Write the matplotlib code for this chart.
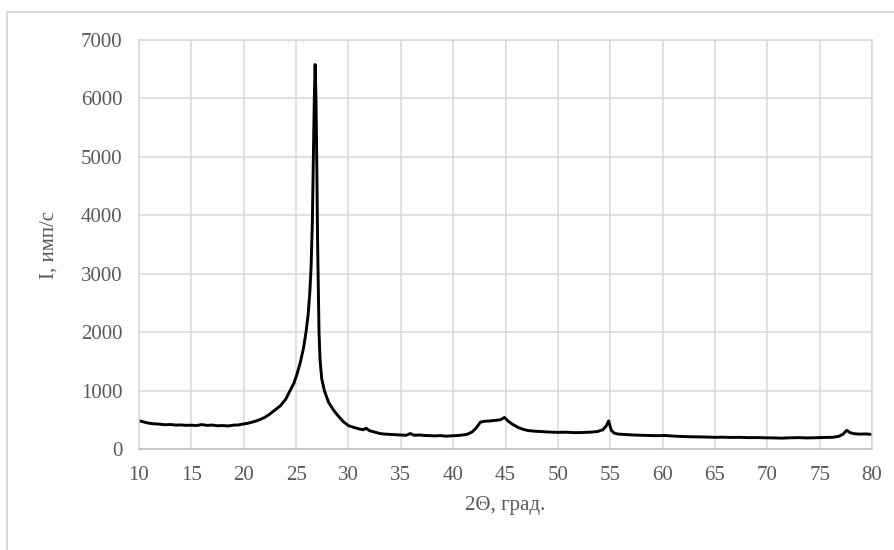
import numpy as np
import matplotlib
matplotlib.use('Agg')
import matplotlib.pyplot as plt
from matplotlib.patches import Rectangle

## XRD pattern

two_theta = [10.0, 10.5, 11.0, 11.5, 12.0, 12.5, 13.0, 13.5, 14.0, 14.5, 15.0, 15.5,
             16.0, 16.5, 17.0, 17.5, 18.0, 18.5, 19.0, 19.5, 20.0, 20.5, 21.0, 21.5,
             22.0, 22.5, 23.0, 23.5, 24.0, 24.4, 24.8, 25.1, 25.4, 25.7, 25.95, 26.15,
             26.3, 26.43, 26.55, 26.65, 26.74, 26.82, 26.9, 26.97, 27.05, 27.12, 27.19,
             27.29, 27.45, 27.7, 28.1, 28.56, 29.0, 29.5, 30.0, 30.5, 31.0, 31.4, 31.7,
             32.0, 32.5, 33.0, 33.5, 34.0, 34.5, 35.0, 35.5, 35.9, 36.3, 36.8, 37.3,
             37.8, 38.3, 38.8, 39.3, 39.8, 40.3, 40.8, 41.3, 41.8, 42.2, 42.6, 43.0,
             43.5, 44.0, 44.5, 44.9, 45.3, 45.7, 46.2, 46.7, 47.2, 47.8, 48.5, 49.2,
             50.0, 50.8, 51.6, 52.4, 53.2, 53.8, 54.3, 54.6, 54.85, 55.1, 55.4, 55.8,
             56.5, 57.2, 58.0, 58.8, 59.5, 60.2, 61.0, 61.8, 62.6, 63.4, 64.2, 65.0,
             65.8, 66.6, 67.4, 68.2, 69.0, 69.8, 70.6, 71.4, 72.2, 73.0, 73.8, 74.6,
             75.4, 76.2, 76.8, 77.2, 77.6, 77.9, 78.3, 78.8, 79.4, 80.0]
intensity = [485, 460, 440, 430, 425, 415, 420, 410, 412, 405, 408, 402,
             418, 405, 410, 398, 402, 395, 408, 412, 430, 445, 470, 500,
             540, 600, 670, 740, 850, 990, 1130, 1290, 1480, 1720, 2000, 2300,
             2650, 3100, 3850, 5000, 6000, 6580, 6000, 5000, 3600, 2800, 2000,
             1520, 1200, 1000, 800, 670, 570, 470, 400, 370, 345, 330, 355,
             315, 290, 265, 255, 250, 245, 240, 235, 265, 235, 240, 232,
             228, 225, 230, 220, 225, 230, 238, 250, 290, 360, 460, 475,
             480, 490, 500, 540, 470, 420, 370, 335, 315, 305, 298, 290,
             285, 288, 280, 283, 290, 300, 330, 390, 480, 320, 270, 255,
             248, 240, 235, 232, 228, 232, 222, 215, 210, 208, 205, 200,
             202, 198, 200, 195, 196, 192, 190, 186, 192, 195, 190, 193,
             198, 200, 215, 250, 320, 280, 262, 255, 258, 250]

x_ticks = list(range(10, 81, 5))
y_ticks = list(range(0, 7001, 1000))

plt.rcParams['font.family'] = ['Liberation Serif', 'DejaVu Serif']

fig = plt.figure(figsize=(8.94, 5.5), dpi=100)
ax = fig.add_axes([0.1555, 0.1836, 0.8199, 0.7437])

ax.plot(two_theta, intensity, color='black', lw=2.1, solid_joinstyle='round')

ax.set_xlim(10, 80)
ax.set_ylim(0, 7000)
ax.set_xticks(x_ticks)
ax.set_yticks(y_ticks)
ax.grid(True, color='#d9d9d9', lw=1.1)
ax.set_axisbelow(True)
ax.tick_params(length=0, labelsize=15, labelcolor='#595959', pad=12)
for s in ax.spines.values():
    s.set_color('#d9d9d9')
    s.set_linewidth(1.1)
ax.spines['bottom'].set_color('#bfbfbf')

ax.set_xlabel('2\u0398, град.', fontsize=15, color='#595959', labelpad=8)
ax.set_ylabel('I, имп/с', fontsize=15, color='#595959', labelpad=16)

# outer chart border
fig.patches.append(Rectangle((7 / 894, -0.1), 1.2, (550 - 12) / 550 + 0.1,
                             transform=fig.transFigure, fill=False,
                             edgecolor='#d9d9d9', lw=1.5))

fig.savefig('out.png', dpi=100)
